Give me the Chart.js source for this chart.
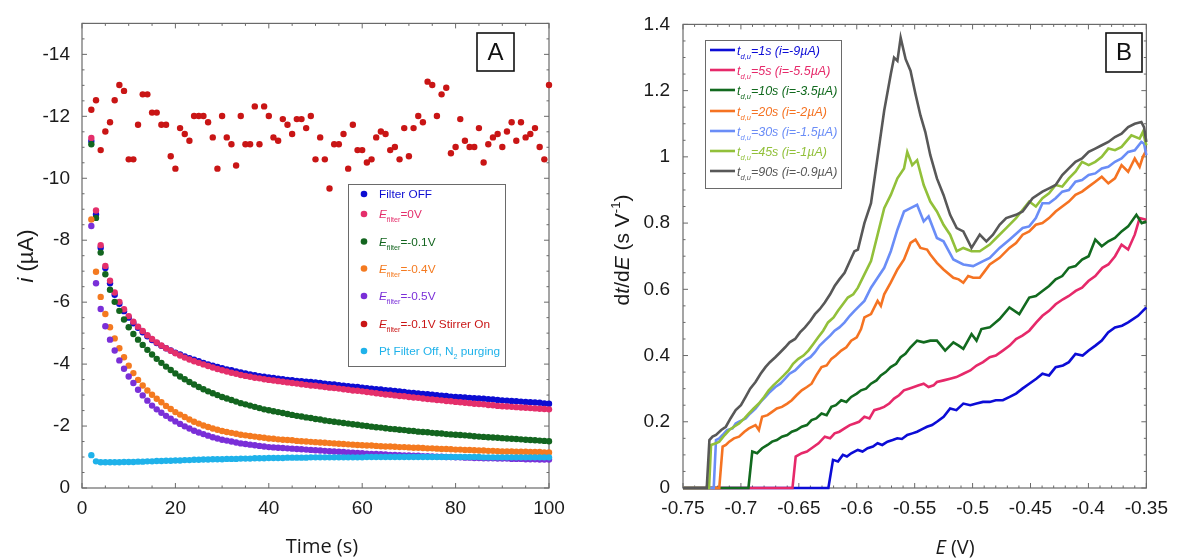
<!DOCTYPE html>
<html><head><meta charset="utf-8">
<script src="https://cdn.jsdelivr.net/npm/chart.js@4.4.1/dist/chart.umd.min.js"></script>
<style>
html,body{margin:0;padding:0;background:#fff;width:1177px;height:560px;overflow:hidden}
#wa{position:absolute;left:0;top:0;width:590px;height:560px}
#wb{position:absolute;left:590px;top:0;width:587px;height:560px}
</style></head><body>
<div id="wa"><canvas id="ca"></canvas></div>
<div id="wb"><canvas id="cb"></canvas></div>
<script>
// ---------------- Panel A data: current i (µA) vs time (s) ----------------
const timeA = [2,3,4,5,6,7,8,9,10,11,12,13,14,15,16,17,18,19,20,21,22,23,24,25,26,27,28,29,30,31,32,33,34,35,36,37,38,39,40,41,42,43,44,45,46,47,48,49,50,51,52,53,54,55,56,57,58,59,60,61,62,63,64,65,66,67,68,69,70,71,72,73,74,75,76,77,78,79,80,81,82,83,84,85,86,87,88,89,90,91,92,93,94,95,96,97,98,99,100];
const filterOff = [-11.20,-8.83,-7.76,-7.10,-6.61,-6.24,-5.95,-5.71,-5.50,-5.32,-5.17,-5.03,-4.90,-4.78,-4.68,-4.59,-4.51,-4.44,-4.37,-4.31,-4.25,-4.19,-4.14,-4.09,-4.04,-3.99,-3.95,-3.91,-3.87,-3.83,-3.80,-3.76,-3.73,-3.70,-3.67,-3.64,-3.61,-3.59,-3.57,-3.55,-3.53,-3.51,-3.49,-3.48,-3.46,-3.45,-3.43,-3.42,-3.41,-3.39,-3.37,-3.35,-3.34,-3.32,-3.30,-3.29,-3.27,-3.26,-3.24,-3.22,-3.21,-3.19,-3.18,-3.16,-3.15,-3.13,-3.12,-3.10,-3.08,-3.07,-3.05,-3.04,-3.03,-3.01,-3.00,-2.98,-2.97,-2.95,-2.94,-2.93,-2.92,-2.91,-2.90,-2.89,-2.88,-2.87,-2.86,-2.84,-2.83,-2.82,-2.81,-2.80,-2.79,-2.78,-2.77,-2.76,-2.75,-2.73,-2.72];
const eFilter0 = [-11.30,-8.96,-7.84,-7.17,-6.69,-6.31,-6.01,-5.77,-5.55,-5.37,-5.21,-5.07,-4.93,-4.81,-4.70,-4.60,-4.51,-4.43,-4.35,-4.28,-4.21,-4.15,-4.09,-4.04,-3.99,-3.94,-3.89,-3.84,-3.80,-3.76,-3.72,-3.69,-3.65,-3.62,-3.59,-3.56,-3.54,-3.51,-3.49,-3.47,-3.45,-3.43,-3.41,-3.39,-3.37,-3.35,-3.33,-3.31,-3.30,-3.28,-3.26,-3.24,-3.23,-3.21,-3.19,-3.17,-3.15,-3.14,-3.12,-3.10,-3.08,-3.06,-3.04,-3.02,-3.01,-2.99,-2.97,-2.96,-2.94,-2.92,-2.91,-2.89,-2.87,-2.86,-2.84,-2.83,-2.81,-2.80,-2.78,-2.77,-2.75,-2.74,-2.72,-2.71,-2.70,-2.68,-2.67,-2.65,-2.64,-2.63,-2.62,-2.61,-2.60,-2.59,-2.58,-2.57,-2.56,-2.55,-2.54];
const eFilterM01 = [-11.10,-8.72,-7.60,-6.90,-6.40,-6.01,-5.72,-5.44,-5.19,-4.97,-4.79,-4.62,-4.46,-4.31,-4.17,-4.04,-3.92,-3.81,-3.70,-3.60,-3.51,-3.42,-3.34,-3.26,-3.19,-3.12,-3.06,-3.00,-2.94,-2.89,-2.84,-2.79,-2.74,-2.70,-2.66,-2.62,-2.58,-2.54,-2.51,-2.48,-2.45,-2.42,-2.39,-2.36,-2.33,-2.31,-2.28,-2.26,-2.23,-2.21,-2.18,-2.16,-2.14,-2.12,-2.10,-2.08,-2.06,-2.04,-2.02,-2.00,-1.98,-1.96,-1.95,-1.93,-1.91,-1.90,-1.88,-1.87,-1.85,-1.84,-1.82,-1.81,-1.80,-1.78,-1.77,-1.76,-1.74,-1.73,-1.72,-1.71,-1.70,-1.69,-1.67,-1.66,-1.65,-1.64,-1.63,-1.62,-1.61,-1.60,-1.59,-1.58,-1.57,-1.56,-1.55,-1.54,-1.53,-1.52,-1.51];
const eFilterM04 = [-8.67,-6.98,-6.17,-5.62,-5.19,-4.83,-4.51,-4.22,-3.95,-3.71,-3.49,-3.31,-3.15,-3.01,-2.88,-2.77,-2.65,-2.55,-2.45,-2.37,-2.29,-2.21,-2.14,-2.08,-2.02,-1.97,-1.92,-1.88,-1.84,-1.81,-1.78,-1.75,-1.72,-1.70,-1.68,-1.66,-1.64,-1.62,-1.60,-1.59,-1.57,-1.56,-1.55,-1.54,-1.52,-1.51,-1.50,-1.49,-1.48,-1.47,-1.46,-1.45,-1.44,-1.43,-1.42,-1.41,-1.40,-1.39,-1.38,-1.37,-1.37,-1.36,-1.35,-1.34,-1.34,-1.33,-1.32,-1.32,-1.31,-1.30,-1.30,-1.29,-1.28,-1.28,-1.27,-1.26,-1.26,-1.25,-1.24,-1.24,-1.23,-1.23,-1.22,-1.21,-1.21,-1.20,-1.20,-1.19,-1.18,-1.18,-1.18,-1.17,-1.17,-1.17,-1.16,-1.16,-1.16,-1.15,-1.15];
const eFilterM05 = [-8.46,-6.61,-5.78,-5.22,-4.79,-4.44,-4.12,-3.85,-3.60,-3.39,-3.17,-2.99,-2.82,-2.66,-2.54,-2.43,-2.33,-2.24,-2.15,-2.07,-1.99,-1.92,-1.85,-1.79,-1.74,-1.69,-1.64,-1.60,-1.56,-1.53,-1.50,-1.47,-1.44,-1.42,-1.40,-1.38,-1.36,-1.34,-1.32,-1.31,-1.30,-1.29,-1.28,-1.27,-1.26,-1.25,-1.24,-1.23,-1.22,-1.21,-1.20,-1.19,-1.18,-1.17,-1.16,-1.15,-1.14,-1.13,-1.12,-1.11,-1.10,-1.10,-1.09,-1.08,-1.07,-1.07,-1.06,-1.05,-1.05,-1.04,-1.04,-1.03,-1.03,-1.02,-1.01,-1.01,-1.00,-1.00,-0.99,-0.99,-0.98,-0.98,-0.97,-0.97,-0.96,-0.96,-0.96,-0.95,-0.95,-0.95,-0.94,-0.94,-0.94,-0.93,-0.93,-0.93,-0.92,-0.92,-0.92];
const stirrerOn = [-12.21,-12.52,-10.91,-11.51,-11.81,-12.52,-13.01,-12.82,-10.61,-10.61,-11.73,-12.71,-12.71,-12.12,-12.12,-11.73,-11.73,-10.71,-10.31,-11.62,-11.43,-11.21,-12.01,-12.01,-12.01,-11.81,-11.32,-10.31,-12.01,-11.32,-11.10,-10.41,-12.01,-11.10,-11.10,-12.32,-11.10,-12.32,-12.01,-11.32,-11.21,-11.91,-11.73,-11.43,-11.91,-11.91,-11.62,-12.01,-10.61,-11.32,-10.61,-9.67,-11.10,-11.10,-11.43,-10.31,-11.73,-10.91,-10.91,-10.51,-10.61,-11.32,-11.51,-11.43,-10.91,-11.01,-10.61,-11.62,-10.71,-11.62,-12.01,-11.81,-13.12,-13.01,-12.01,-12.71,-12.92,-10.81,-11.01,-11.91,-11.21,-11.01,-11.01,-11.62,-10.51,-11.10,-11.32,-11.43,-11.01,-11.51,-11.81,-11.21,-11.81,-11.32,-11.43,-11.62,-11.01,-10.61,-13.01];
const ptN2 = [-1.06,-0.86,-0.83,-0.83,-0.83,-0.83,-0.83,-0.84,-0.84,-0.84,-0.85,-0.85,-0.86,-0.86,-0.87,-0.87,-0.88,-0.88,-0.89,-0.89,-0.90,-0.90,-0.91,-0.91,-0.92,-0.92,-0.93,-0.93,-0.93,-0.94,-0.94,-0.94,-0.95,-0.95,-0.95,-0.96,-0.96,-0.96,-0.97,-0.97,-0.97,-0.97,-0.98,-0.98,-0.98,-0.98,-0.98,-0.99,-0.99,-0.99,-0.99,-0.99,-0.99,-0.99,-0.99,-0.99,-0.99,-0.99,-0.99,-1.00,-1.00,-1.00,-1.00,-1.00,-1.00,-1.00,-1.00,-1.00,-1.00,-1.00,-1.00,-1.00,-1.00,-1.00,-1.00,-1.00,-1.00,-1.00,-1.00,-1.00,-1.00,-1.00,-1.00,-1.00,-0.99,-0.99,-0.99,-0.99,-0.99,-0.99,-0.99,-0.99,-0.99,-0.99,-0.99,-0.99,-0.99,-0.99,-0.99];

// ---------------- Panel B data: dt/dE (s/V) vs E (V) ----------------
const E_1s = [-0.75,-0.6245,-0.6205,-0.6162,-0.612,-0.6085,-0.6048,-0.602,-0.5991,-0.595,-0.5906,-0.586,-0.582,-0.578,-0.5735,-0.569,-0.565,-0.561,-0.5564,-0.552,-0.5479,-0.5435,-0.5394,-0.535,-0.5308,-0.525,-0.5194,-0.514,-0.508,-0.502,-0.4966,-0.491,-0.4852,-0.48,-0.4739,-0.468,-0.4625,-0.457,-0.4511,-0.445,-0.4397,-0.434,-0.4283,-0.422,-0.4169,-0.4112,-0.405,-0.3998,-0.394,-0.3885,-0.383,-0.3771,-0.371,-0.3657,-0.3572,-0.353,-0.35];
const D_1s = [0,0,0.085,0.08,0.10,0.095,0.105,0.11,0.115,0.11,0.12,0.125,0.135,0.13,0.14,0.145,0.15,0.148,0.16,0.165,0.17,0.178,0.185,0.19,0.20,0.215,0.24,0.235,0.255,0.25,0.255,0.26,0.26,0.265,0.265,0.275,0.285,0.30,0.315,0.33,0.345,0.34,0.365,0.37,0.38,0.405,0.40,0.415,0.43,0.445,0.47,0.485,0.49,0.50,0.52,0.535,0.545];
const E_5s = [-0.75,-0.6555,-0.6527,-0.6475,-0.643,-0.639,-0.633,-0.6276,-0.623,-0.6191,-0.615,-0.6105,-0.606,-0.602,-0.598,-0.5934,-0.589,-0.5849,-0.58,-0.5764,-0.572,-0.5678,-0.5635,-0.5593,-0.555,-0.5507,-0.5465,-0.5422,-0.538,-0.5337,-0.5308,-0.525,-0.5194,-0.514,-0.508,-0.502,-0.4966,-0.491,-0.4852,-0.48,-0.4739,-0.468,-0.4625,-0.457,-0.4511,-0.445,-0.4397,-0.434,-0.4283,-0.422,-0.4169,-0.411,-0.4055,-0.4,-0.3941,-0.388,-0.3828,-0.377,-0.3714,-0.3657,-0.36,-0.3558,-0.35];
const D_5s = [0,0,0.095,0.105,0.11,0.12,0.135,0.155,0.15,0.165,0.17,0.18,0.19,0.195,0.2,0.215,0.21,0.235,0.24,0.245,0.255,0.27,0.28,0.295,0.30,0.305,0.31,0.315,0.305,0.31,0.32,0.325,0.33,0.335,0.345,0.355,0.37,0.38,0.395,0.40,0.415,0.43,0.45,0.46,0.475,0.50,0.52,0.535,0.555,0.57,0.58,0.595,0.605,0.625,0.64,0.665,0.675,0.70,0.735,0.72,0.765,0.815,0.81];
const E_10s = [-0.75,-0.6935,-0.6902,-0.686,-0.6817,-0.677,-0.6731,-0.669,-0.6646,-0.66,-0.6561,-0.652,-0.6475,-0.643,-0.639,-0.635,-0.6304,-0.626,-0.6219,-0.618,-0.6134,-0.609,-0.6048,-0.6,-0.5963,-0.592,-0.5877,-0.583,-0.5792,-0.575,-0.5707,-0.566,-0.5621,-0.558,-0.5536,-0.5479,-0.5422,-0.5365,-0.5308,-0.5237,-0.5166,-0.512,-0.508,-0.5009,-0.4966,-0.4924,-0.4852,-0.4767,-0.4682,-0.4597,-0.4511,-0.4454,-0.4397,-0.434,-0.4283,-0.4226,-0.4169,-0.4112,-0.4055,-0.3998,-0.3941,-0.3885,-0.3828,-0.3771,-0.3714,-0.3657,-0.3586,-0.354,-0.35];
const D_10s = [0,0,0.11,0.105,0.12,0.13,0.14,0.145,0.155,0.16,0.17,0.175,0.185,0.19,0.205,0.21,0.225,0.22,0.245,0.25,0.265,0.26,0.275,0.285,0.295,0.30,0.315,0.325,0.34,0.35,0.365,0.375,0.395,0.405,0.425,0.445,0.44,0.445,0.445,0.415,0.44,0.43,0.42,0.465,0.445,0.48,0.485,0.51,0.545,0.525,0.575,0.58,0.595,0.61,0.63,0.64,0.665,0.67,0.69,0.70,0.75,0.73,0.745,0.755,0.775,0.79,0.825,0.80,0.805];
const E_20s = [-0.75,-0.7187,-0.7158,-0.713,-0.7101,-0.706,-0.7016,-0.697,-0.6931,-0.6874,-0.6845,-0.6817,-0.677,-0.6731,-0.669,-0.6646,-0.66,-0.6561,-0.652,-0.6475,-0.643,-0.639,-0.635,-0.6304,-0.626,-0.6219,-0.618,-0.6134,-0.609,-0.6048,-0.6,-0.5963,-0.5934,-0.5877,-0.582,-0.5792,-0.5763,-0.5707,-0.5649,-0.5592,-0.5536,-0.5493,-0.545,-0.5393,-0.5365,-0.5308,-0.5251,-0.5166,-0.512,-0.508,-0.5038,-0.4995,-0.4938,-0.4895,-0.4852,-0.4767,-0.4682,-0.4625,-0.4568,-0.4511,-0.4454,-0.4397,-0.434,-0.4283,-0.4226,-0.4169,-0.4112,-0.4055,-0.3998,-0.3941,-0.3885,-0.3828,-0.3771,-0.3714,-0.3657,-0.36,-0.3558,-0.353,-0.35];
const D_20s = [0,0,0.125,0.13,0.14,0.15,0.155,0.17,0.18,0.19,0.175,0.215,0.22,0.23,0.24,0.245,0.255,0.265,0.28,0.295,0.305,0.315,0.34,0.365,0.37,0.39,0.40,0.415,0.425,0.445,0.455,0.48,0.515,0.525,0.565,0.55,0.585,0.62,0.66,0.69,0.74,0.75,0.725,0.72,0.705,0.68,0.66,0.635,0.63,0.62,0.64,0.635,0.635,0.655,0.675,0.695,0.725,0.74,0.765,0.775,0.795,0.80,0.815,0.835,0.85,0.865,0.885,0.895,0.91,0.925,0.94,0.92,0.935,0.975,0.955,0.995,0.97,1.0,1.02];
const E_30s = [-0.75,-0.7235,-0.7215,-0.7187,-0.7158,-0.712,-0.7073,-0.7045,-0.7016,-0.6988,-0.6959,-0.692,-0.6874,-0.683,-0.6788,-0.675,-0.6703,-0.666,-0.6618,-0.658,-0.6532,-0.649,-0.6447,-0.64,-0.6361,-0.632,-0.6276,-0.623,-0.6191,-0.615,-0.6105,-0.606,-0.602,-0.5977,-0.5934,-0.5877,-0.582,-0.5763,-0.5706,-0.5649,-0.5592,-0.5536,-0.5479,-0.5422,-0.538,-0.5308,-0.5251,-0.5166,-0.508,-0.4995,-0.4909,-0.4852,-0.4767,-0.4682,-0.4568,-0.4511,-0.4454,-0.4397,-0.434,-0.4283,-0.4226,-0.4169,-0.4112,-0.4055,-0.3998,-0.3941,-0.3885,-0.3828,-0.3771,-0.3714,-0.3657,-0.36,-0.3543,-0.352,-0.35];
const D_30s = [0,0,0.145,0.15,0.16,0.175,0.18,0.195,0.20,0.205,0.21,0.225,0.24,0.26,0.275,0.29,0.305,0.315,0.33,0.345,0.355,0.37,0.385,0.395,0.41,0.43,0.445,0.46,0.475,0.485,0.50,0.52,0.535,0.55,0.565,0.605,0.635,0.665,0.715,0.78,0.835,0.845,0.855,0.805,0.82,0.755,0.745,0.69,0.675,0.67,0.685,0.695,0.725,0.75,0.785,0.79,0.815,0.86,0.86,0.875,0.895,0.90,0.925,0.93,0.945,0.95,0.965,0.97,0.985,0.995,1.015,1.02,1.045,1.04,1.005];
const E_45s = [-0.75,-0.7275,-0.7258,-0.7215,-0.7187,-0.714,-0.7101,-0.706,-0.7016,-0.697,-0.6931,-0.689,-0.6845,-0.68,-0.676,-0.672,-0.6674,-0.663,-0.6589,-0.655,-0.6504,-0.646,-0.6418,-0.6375,-0.6333,-0.629,-0.6248,-0.62,-0.6162,-0.612,-0.6077,-0.603,-0.599,-0.5934,-0.5877,-0.582,-0.5763,-0.5706,-0.5649,-0.5592,-0.5564,-0.5521,-0.5479,-0.5422,-0.5365,-0.5308,-0.5251,-0.5194,-0.5137,-0.508,-0.5009,-0.4938,-0.4852,-0.4796,-0.471,-0.4625,-0.4511,-0.4454,-0.4397,-0.434,-0.4283,-0.4226,-0.4169,-0.4112,-0.4055,-0.3998,-0.3941,-0.3885,-0.3828,-0.3771,-0.3714,-0.3629,-0.3558,-0.353,-0.35];
const D_45s = [0,0,0.13,0.135,0.14,0.16,0.175,0.185,0.195,0.21,0.225,0.24,0.255,0.275,0.295,0.31,0.325,0.34,0.355,0.375,0.39,0.40,0.415,0.435,0.455,0.475,0.50,0.515,0.535,0.555,0.575,0.585,0.605,0.645,0.685,0.765,0.845,0.885,0.935,0.965,1.015,0.975,0.99,0.915,0.865,0.835,0.795,0.765,0.715,0.725,0.715,0.715,0.735,0.755,0.785,0.815,0.865,0.85,0.875,0.89,0.915,0.91,0.935,0.955,0.985,0.975,0.985,1.0,1.025,1.02,1.03,1.065,1.055,1.075,1.035];
const E_90s = [-0.75,-0.7295,-0.7272,-0.7245,-0.7215,-0.717,-0.713,-0.709,-0.7045,-0.7,-0.6959,-0.692,-0.6874,-0.683,-0.6788,-0.675,-0.6703,-0.666,-0.6618,-0.658,-0.6532,-0.649,-0.6447,-0.64,-0.6361,-0.632,-0.6276,-0.623,-0.6191,-0.615,-0.6105,-0.606,-0.602,-0.599,-0.5934,-0.5877,-0.582,-0.5763,-0.5706,-0.5678,-0.5649,-0.5621,-0.5578,-0.5536,-0.5493,-0.545,-0.5408,-0.5365,-0.5308,-0.5251,-0.5194,-0.5137,-0.508,-0.5009,-0.4938,-0.4881,-0.4824,-0.4767,-0.471,-0.4625,-0.4568,-0.4482,-0.4397,-0.434,-0.4283,-0.4226,-0.4169,-0.4112,-0.4055,-0.3998,-0.3941,-0.3885,-0.3828,-0.3771,-0.3714,-0.3657,-0.36,-0.3543,-0.352,-0.35];
const D_90s = [0,0,0.145,0.155,0.16,0.175,0.185,0.21,0.235,0.25,0.275,0.30,0.32,0.345,0.365,0.38,0.395,0.41,0.425,0.44,0.45,0.47,0.485,0.505,0.525,0.54,0.56,0.585,0.61,0.63,0.65,0.685,0.715,0.72,0.80,0.86,1.0,1.14,1.25,1.30,1.29,1.36,1.295,1.26,1.19,1.125,1.075,1.005,0.935,0.885,0.825,0.785,0.775,0.725,0.765,0.745,0.765,0.795,0.815,0.825,0.835,0.875,0.895,0.905,0.915,0.945,0.965,0.985,0.995,1.015,1.025,1.035,1.045,1.06,1.07,1.09,1.10,1.105,1.09,1.045];

// ---------------- labels ----------------
const legendA = [
  [{t:'Filter OFF'}],
  [{t:'E',it:1},{t:'filter',sub:1},{t:'=0V'}],
  [{t:'E',it:1},{t:'filter',sub:1},{t:'=-0.1V'}],
  [{t:'E',it:1},{t:'filter',sub:1},{t:'=-0.4V'}],
  [{t:'E',it:1},{t:'filter',sub:1},{t:'=-0.5V'}],
  [{t:'E',it:1},{t:'filter',sub:1},{t:'=-0.1V Stirrer On'}],
  [{t:'Pt Filter Off, N'},{t:'2',sub:1},{t:' purging'}]
];
const legendB = ['=1s (i=-9µA)','=5s (i=-5.5µA)','=10s (i=-3.5µA)','=20s (i=-2µA)','=30s (i=-1.5µA)','=45s (i=-1µA)','=90s (i=-0.9µA)'];

const colorsA = ['#0c0cd2','#e42f6b','#13651f','#f47a20','#7a2fd8','#c91515','#1fb2ea'];
const colorsB = ['#0c0cd6','#e6296a','#126a1f','#f57322','#6a8df7','#92c03a','#585858'];

const ARIAL = "'Liberation Sans', Arial, sans-serif";
const OPEN = "'Open Sans', 'Liberation Sans', sans-serif";
Chart.defaults.font.family = ARIAL;

function drawRich(ctx, segs, x, y, o){
  const size = o.size, fam = o.family, ss = o.subSize || size*0.6;
  const fontOf = s => (s.it||o.italic ? 'italic ' : '') + ((s.sub||s.sup) ? ss : size) + 'px ' + fam;
  let w = 0;
  const ws = segs.map(s => { ctx.font = fontOf(s); const m = ctx.measureText(s.t).width; w += m; return m; });
  ctx.save();
  ctx.translate(x, y);
  if (o.rot) ctx.rotate(o.rot);
  ctx.fillStyle = o.color;
  ctx.textBaseline = 'alphabetic';
  ctx.textAlign = 'left';
  let cx = o.align === 'left' ? 0 : -w/2;
  const base = size*0.36;
  segs.forEach((s,i) => {
    ctx.font = fontOf(s);
    let dy = base;
    if (s.sub) dy += size*0.32;
    if (s.sup) dy -= size*0.42;
    ctx.fillText(s.t, cx, dy);
    cx += ws[i];
  });
  ctx.restore();
}

function framePlugin(isMajX, isMajY){
  return {
    id:'frameTicks',
    beforeDatasetsDraw(chart){
      const {ctx, chartArea:a, scales} = chart;
      ctx.save();
      ctx.strokeStyle = '#6a6a6a';
      ctx.lineWidth = 1.2;
      ctx.strokeRect(a.left, a.top, a.right-a.left, a.bottom-a.top);
      ctx.lineWidth = 1;
      ctx.beginPath();
      scales.x.ticks.forEach(t => {
        const p = scales.x.getPixelForValue(t.value);
        const L = isMajX(t.value) ? 5 : 2.5;
        ctx.moveTo(p, a.bottom); ctx.lineTo(p, a.bottom - L);
        ctx.moveTo(p, a.top); ctx.lineTo(p, a.top + L);
      });
      scales.y.ticks.forEach(t => {
        const p = scales.y.getPixelForValue(t.value);
        const L = isMajY(t.value) ? 5 : 2.5;
        ctx.moveTo(a.left, p); ctx.lineTo(a.left + L, p);
        ctx.moveTo(a.right, p); ctx.lineTo(a.right - L, p);
      });
      ctx.stroke();
      ctx.restore();
    }
  };
}

function boxLabel(ctx, letter, x0, y0, x1, y1){
  ctx.save();
  ctx.strokeStyle = '#111';
  ctx.lineWidth = 1.6;
  ctx.fillStyle = '#fff';
  ctx.fillRect(x0, y0, x1-x0, y1-y0);
  ctx.strokeRect(x0, y0, x1-x0, y1-y0);
  ctx.fillStyle = '#111';
  ctx.font = '24px ' + ARIAL;
  ctx.textAlign = 'center';
  ctx.textBaseline = 'middle';
  ctx.fillText(letter, (x0+x1)/2, (y0+y1)/2 + 1);
  ctx.restore();
}

const tickFont = {size:19, family:ARIAL};
const isMajA_x = v => Math.abs(Math.round(v) % 20) === 0;
const isMajA_y = v => Math.abs((Math.round(v*2)/2) % 2) < 1e-9;
const isMajB_x = v => Math.round(v*100) % 5 === 0;
const isMajB_y = v => Math.round(v*100) % 20 === 0;

// ---------------- Chart A ----------------
const seriesA = [filterOff, eFilter0, eFilterM01, eFilterM04, eFilterM05, stirrerOn, ptN2];
const namesA = ['Filter OFF','E filter =0V','E filter =-0.1V','E filter =-0.4V','E filter =-0.5V','E filter =-0.1V Stirrer On','Pt Filter Off, N2 purging'];
new Chart(document.getElementById('ca'), {
  type:'scatter',
  data:{ datasets: seriesA.map((vals,k) => ({
    label: namesA[k],
    data: vals.map((v,i) => ({x: timeA[i], y: v})),
    backgroundColor: colorsA[k], borderColor: colorsA[k],
    pointRadius: 3.2, pointBorderWidth: 0, pointHoverRadius: 3.2,
    showLine: false, order: seriesA.length - k, clip: 4
  }))},
  options:{
    responsive:true, maintainAspectRatio:false, animation:false,
    layout:{padding:{left:0, right:41, top:21, bottom:0}},
    plugins:{legend:{display:false}, tooltip:{enabled:false}},
    scales:{
      x:{type:'linear', min:0, max:100, afterFit(s){ s.height = 72; },
         grid:{display:false, drawTicks:false}, border:{display:false},
         ticks:{stepSize:5, autoSkip:false, maxRotation:0, minRotation:0, padding:9, color:'#1a1a1a', font:tickFont,
                callback:(v)=> isMajA_x(v) ? String(Math.round(v)) : ''}},
      y:{type:'linear', min:-15, max:0, reverse:true, afterFit(s){ s.width = 82; },
         grid:{display:false, drawTicks:false}, border:{display:false},
         ticks:{stepSize:0.5, autoSkip:false, padding:12, color:'#1a1a1a', font:tickFont,
                callback:(v)=> isMajA_y(v) ? String(Math.round(v)+0) : ''}}
    }
  },
  plugins:[framePlugin(isMajA_x, isMajA_y), {
    id:'decorA',
    afterDraw(chart){
      const ctx = chart.ctx;
      drawRich(ctx, [{t:'Time (s)'}], 322, 546, {size:20, family:OPEN, color:'#1a1a1a'});
      drawRich(ctx, [{t:'i',it:1},{t:' (µA)'}], 25, 256, {size:22, family:ARIAL, color:'#1a1a1a', rot:-Math.PI/2});
      ctx.save();
      ctx.fillStyle = '#fff';
      ctx.fillRect(348, 184, 157, 182);
      ctx.strokeStyle = '#6a6a6a'; ctx.lineWidth = 1;
      ctx.strokeRect(348.5, 184.5, 157, 182);
      ctx.restore();
      const rowsY = [194, 214, 241.5, 268.5, 296, 324, 351];
      legendA.forEach((segs, k) => {
        ctx.save();
        ctx.fillStyle = colorsA[k];
        ctx.beginPath(); ctx.arc(364, rowsY[k], 3.3, 0, Math.PI*2); ctx.fill();
        ctx.restore();
        drawRich(ctx, segs, 379, rowsY[k], {size:11.8, subSize:7.2, family:ARIAL, color:colorsA[k], align:'left'});
      });
      boxLabel(ctx, 'A', 477, 33, 514, 71);
    }
  }]
});

// ---------------- Chart B ----------------
const EB = [E_1s, E_5s, E_10s, E_20s, E_30s, E_45s, E_90s];
const DB = [D_1s, D_5s, D_10s, D_20s, D_30s, D_45s, D_90s];
new Chart(document.getElementById('cb'), {
  type:'line',
  data:{ datasets: DB.map((vals,k) => ({
    label: 't d,u' + legendB[k],
    data: vals.map((v,i) => ({x: EB[k][i], y: v})),
    borderColor: colorsB[k], backgroundColor: colorsB[k],
    borderWidth: 2.6, pointRadius: 0, tension: 0, fill: false,
    order: DB.length - k, clip: 4
  }))},
  options:{
    responsive:true, maintainAspectRatio:false, animation:false,
    layout:{padding:{left:0, right:25, top:21, bottom:0}},
    plugins:{legend:{display:false}, tooltip:{enabled:false}},
    scales:{
      x:{type:'linear', min:-0.75, max:-0.35, afterFit(s){ s.height = 72; },
         grid:{display:false, drawTicks:false}, border:{display:false},
         ticks:{stepSize:0.01, autoSkip:false, maxRotation:0, minRotation:0, padding:9, color:'#1a1a1a', font:tickFont,
                callback:(v)=> isMajB_x(v) ? String(Math.round(v*100)/100) : ''}},
      y:{type:'linear', min:0, max:1.4, afterFit(s){ s.width = 93; },
         grid:{display:false, drawTicks:false}, border:{display:false},
         ticks:{stepSize:0.05, autoSkip:false, padding:13, color:'#1a1a1a', font:tickFont,
                callback:(v)=> isMajB_y(v) ? String(Math.round(v*100)/100) : ''}}
    }
  },
  plugins:[framePlugin(isMajB_x, isMajB_y), {
    id:'decorB',
    afterDraw(chart){
      const ctx = chart.ctx;
      drawRich(ctx, [{t:'E',it:1},{t:' (V)'}], 365, 547, {size:20, family:OPEN, color:'#1a1a1a'});
      drawRich(ctx, [{t:'d'},{t:'t',it:1},{t:'/d'},{t:'E',it:1},{t:' (s V'},{t:'-1',sup:1},{t:')'}], 31, 250,
               {size:21, subSize:13, family:ARIAL, color:'#1a1a1a', rot:-Math.PI/2});
      ctx.save();
      ctx.fillStyle = '#fff';
      ctx.fillRect(115, 40, 136, 148);
      ctx.strokeStyle = '#6a6a6a'; ctx.lineWidth = 1;
      ctx.strokeRect(115.5, 40.5, 136, 148);
      ctx.restore();
      const rowsY = [50, 70, 90, 111, 131, 151, 171];
      legendB.forEach((txt, k) => {
        ctx.save();
        ctx.strokeStyle = colorsB[k]; ctx.lineWidth = 2.6;
        ctx.beginPath(); ctx.moveTo(120, rowsY[k]); ctx.lineTo(145, rowsY[k]); ctx.stroke();
        ctx.restore();
        drawRich(ctx, [{t:'t'},{t:'d,u',sub:1},{t:txt}], 147, rowsY[k],
                 {size:12.5, subSize:7.5, family:ARIAL, color:colorsB[k], align:'left', italic:true});
      });
      boxLabel(ctx, 'B', 516, 33, 552, 72);
    }
  }]
});
</script>
</body></html>
